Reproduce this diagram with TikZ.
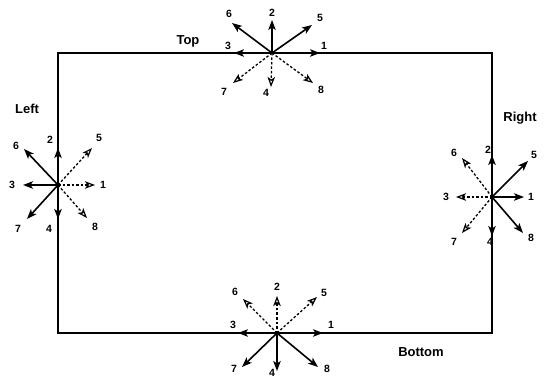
\documentclass[tikz,border=0pt]{standalone}
\usepackage{fontspec}
\setmainfont{Liberation Sans}
\usetikzlibrary{arrows.meta}
\begin{document}
\begin{tikzpicture}[x=1pt,y=-1pt,
  frame/.style={line width=2pt},
  sol/.style={line width=1.6pt,-{Stealth[length=10pt,width=7.5pt,inset=2.5pt]}},
  dsh/.style={line width=1.3pt,dash pattern=on 2.5pt off 2pt,-{Stealth[open,length=10pt,width=7.5pt,inset=2.5pt,line width=1.2pt]}},
  lab/.style={font=\bfseries\fontsize{10.5}{10.5}\selectfont,inner sep=0pt},
  side/.style={font=\bfseries\fontsize{13}{13}\selectfont,inner sep=0pt}]
\useasboundingbox (0,0) rectangle (547,385);
\coordinate (c1) at (58,53);
\coordinate (c3) at (492,333);
\draw[frame] (c1) rectangle (c3);
% Top
\coordinate (T) at (272,53);
\foreach \n/\tx/\ty/\lx/\ly/\s in {1/320/53/324/46/sol,2/272/20/272/13/sol,3/234/53/228/46/sol,5/312/25/320/18/sol,6/232/23/229/14/sol,7/233/83/224/92/dsh,4/271/87/266/93/dsh,8/313/83/321/90/dsh}{
  \coordinate (T\n) at (\tx,\ty);
  \draw[\s] (T) -- (T\n);
  \node[lab] (lT\n) at (\lx,\ly) {\n};
}
\node[side] (top) at (188,41) {Top};
% Left
\coordinate (L) at (58,185);
\foreach \n/\tx/\ty/\lx/\ly/\s in {2/58/148/50/140/sol,5/92/148/99/138/dsh,6/24/149/16/146/sol,3/23/185/12/185/sol,1/95/185/103/185/dsh,7/27/219/18/229/sol,4/58/219/49/229/sol,8/87/218/95/227/dsh}{
  \coordinate (L\n) at (\tx,\ty);
  \draw[\s] (L) -- (L\n);
  \node[lab] (lL\n) at (\lx,\ly) {\n};
}
\node[side] (left) at (27,109) {Left};
% Right
\coordinate (R) at (492,197);
\foreach \n/\tx/\ty/\lx/\ly/\s in {2/492/155/488/150/dsh,5/528/161/534/155/sol,6/462/158/454/153/dsh,3/456/197/446/197/dsh,1/524/197/531/197/sol,7/462/233/454/242/dsh,4/492/236/490/242/dsh,8/523/233/531/238/sol}{
  \coordinate (R\n) at (\tx,\ty);
  \draw[\s] (R) -- (R\n);
  \node[lab] (lR\n) at (\lx,\ly) {\n};
}
\node[side] (right) at (520,118) {Right};
% Bottom
\coordinate (B) at (277,333);
\foreach \n/\tx/\ty/\lx/\ly/\s in {2/277/296/277/287/dsh,6/243/299/235/292/dsh,5/317/297/324/293/dsh,3/238/333/233/325/sol,1/323/333/331/325/sol,7/242/367/234/369/sol,4/277/371/272/373/sol,8/318/367/327/369/sol}{
  \coordinate (B\n) at (\tx,\ty);
  \draw[\s] (B) -- (B\n);
  \node[lab] (lB\n) at (\lx,\ly) {\n};
}
\node[side] (bottom) at (421,352) {Bottom};
\end{tikzpicture}
\end{document}
